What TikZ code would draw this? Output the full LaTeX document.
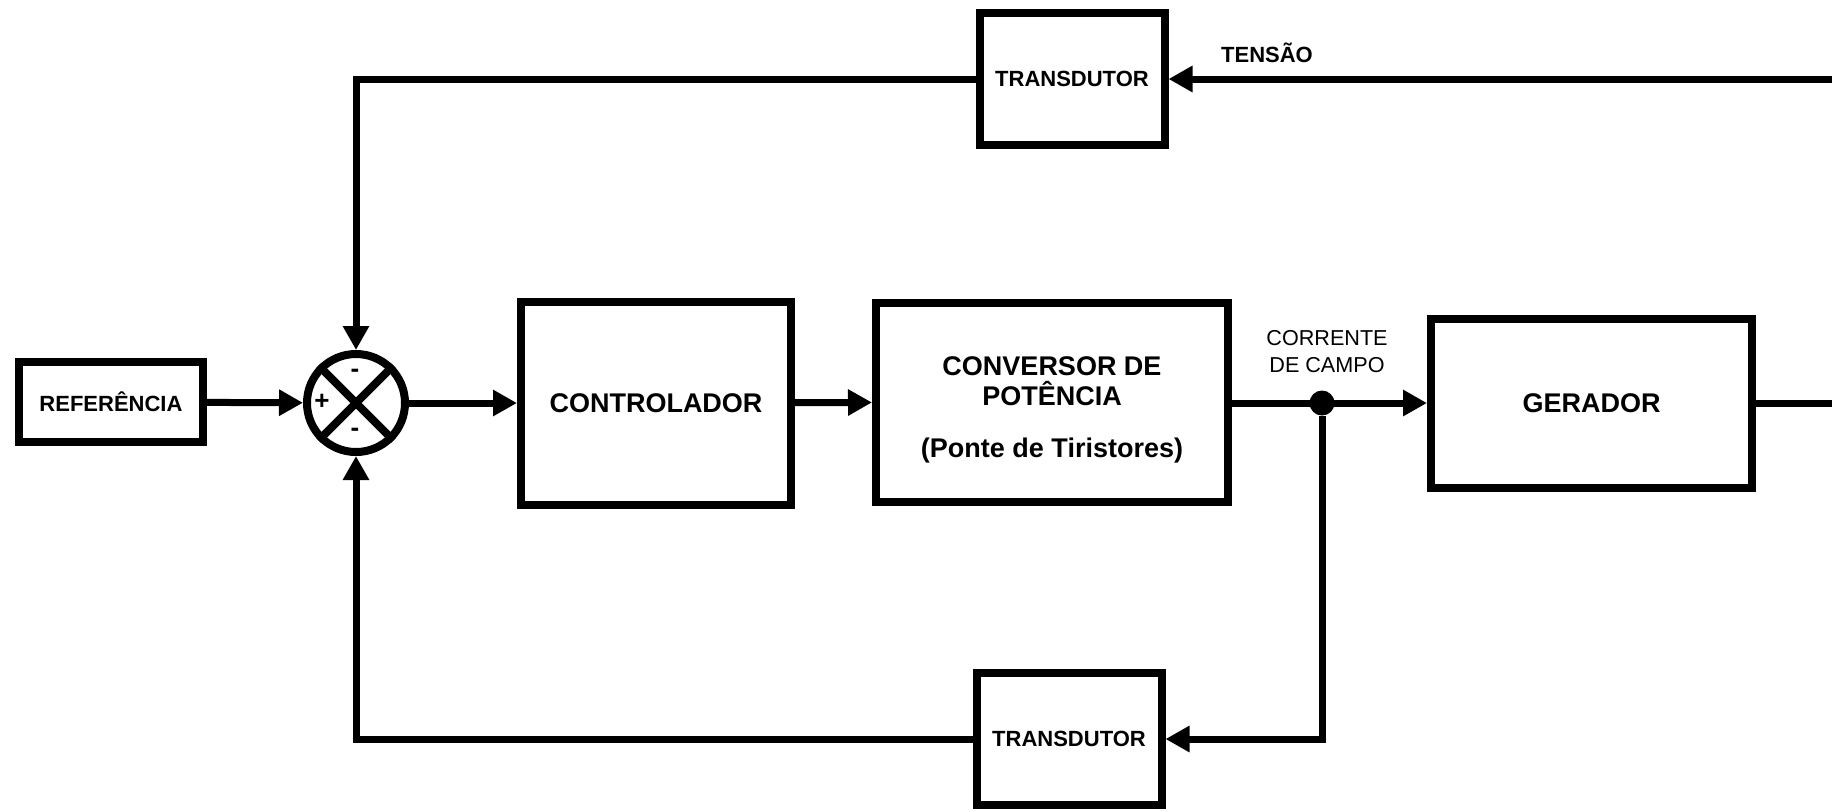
\documentclass[tikz,border=0pt]{standalone}
\usepackage{fontspec}
\setmainfont{Liberation Sans}
\usetikzlibrary{arrows.meta}
\tikzset{caixa/.style={draw,line width=4pt,inner sep=0pt,align=center},
    grande/.style={caixa,font=\fontsize{13.5}{15}\selectfont\bfseries},
    pequena/.style={caixa,font=\fontsize{11}{13}\selectfont\bfseries,
        minimum width=92.5pt,minimum height=66pt},
    rotulo/.style={font=\fontsize{10.8}{13.5}\selectfont,align=center,inner sep=0pt},
    somador/.style={draw,circle,line width=4pt,minimum size=49pt,inner sep=0pt},
    juncao/.style={circle,fill,minimum size=12.5pt,inner sep=0pt},
    sinal/.style={font=\fontsize{13}{13}\selectfont\bfseries,inner sep=0pt},
    fio/.style={line width=3.5pt},
    seta/.style={fio,-{Triangle[length=12pt,width=12.5pt]}}}

\begin{document}
\begin{tikzpicture}[x=0.5pt,y=-0.5pt]
      \useasboundingbox (0,0) rectangle (1832,811);
      % blocos
      \node[pequena,minimum width=92pt,minimum height=40pt] (ref) at (111,402) {REFERÊNCIA};
      \node[somador] (soma) at (356,403) {};
      \draw[line width=4pt] (soma.north east) -- (soma.south west) (soma.north west) -- (soma.south east);
      \node[sinal] (mais) at (322,402) {+};
      \node[sinal] (menosA) at (355,373) {-};
      \node[sinal] (menosB) at (355,432) {-};
      \node[grande,minimum width=135pt,minimum height=101.5pt] (ctrl) at (656,403) {CONTROLADOR};
      \node[grande,minimum width=176pt,minimum height=99.5pt] (conv) at (1052,402) {\rule{0pt}{17pt}CONVERSOR DE\\POTÊNCIA\\[11pt](Ponte de Tiristores)};
      \node[grande,minimum width=160.5pt,minimum height=84.5pt] (ger) at (1591.5,403) {GERADOR};
      \node[pequena] (trsup) at (1072,79) {TRANSDUTOR};
      \node[pequena] (trinf) at (1069,739) {TRANSDUTOR};
      \node[juncao] (jc) at (1322,403) {};
      \node[rotulo] (corr) at (1327,352) {CORRENTE\\DE CAMPO};
      \node[rotulo,font=\fontsize{11}{13}\selectfont\bfseries] (tensao) at (1267,53) {TENSÃO};
      \coordinate (sd) at (1832,79);
      \coordinate (id) at (1832,403);
      % ligacoes
      \draw[seta] (ref) -- (soma);
      \draw[seta] (soma) -- (ctrl);
      \draw[seta] (ctrl) -- (conv);
      \draw[seta] (conv.east |- jc) -- (ger.west |- jc);
      \draw[fio] (ger.east |- id) -- (id);
      \draw[seta] (sd) -- (trsup);
      \draw[seta] (trsup) -| (soma);
      \draw[seta] (jc) |- (trinf);
      \draw[seta] (trinf) -| (soma);
\end{tikzpicture}
\end{document}
